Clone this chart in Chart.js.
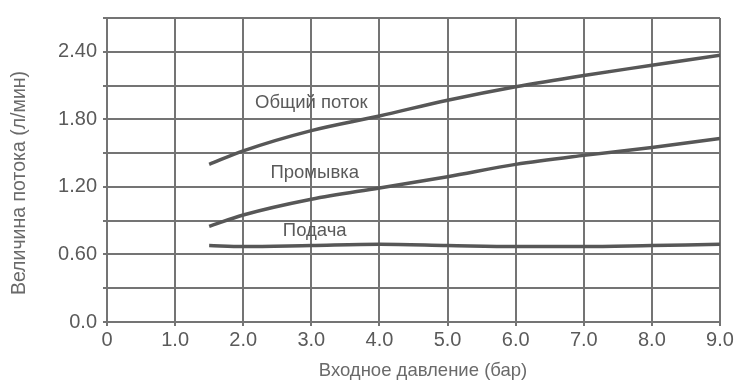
<!DOCTYPE html>
<html>
<head>
<meta charset="utf-8">
<script src="https://cdn.jsdelivr.net/npm/chart.js@4.4.1/dist/chart.umd.min.js"></script>
<style>
html,body{margin:0;padding:0;background:#fff;}
#wrap{width:737px;height:380px;}
</style>
</head>
<body>
<div id="wrap"><canvas id="c" width="737" height="380"></canvas></div>
<script>
const pressure = [1.5, 2, 3, 4, 5, 6, 7, 8, 9];
const totalFlow = [1.40, 1.52, 1.70, 1.83, 1.97, 2.09, 2.19, 2.28, 2.37];
const rinseFlow = [0.85, 0.95, 1.09, 1.19, 1.29, 1.40, 1.48, 1.55, 1.63];
const feedFlow  = [0.68, 0.67, 0.68, 0.69, 0.68, 0.67, 0.67, 0.68, 0.69];
const seriesNames = ['Общий поток', 'Промывка', 'Подача'];
const labelPos = [[3.0, 1.945], [3.05, 1.32], [3.05, 0.81]];
const xTitle = 'Входное давление (бар)';
const yTitle = 'Величина потока (л/мин)';

const pts = arr => pressure.map((p, i) => ({x: p, y: arr[i]}));
const lineColor = '#575757';
const gridColor = '#747474';
const textColor = '#5a5a5a';
const fam = '"Liberation Sans", Arial, sans-serif';

const lineLabels = {
  id: 'lineLabels',
  afterDatasetsDraw(chart) {
    const {ctx, scales: {x, y}} = chart;
    ctx.save();
    ctx.font = '18.5px ' + fam;
    ctx.fillStyle = textColor;
    ctx.textAlign = 'center';
    ctx.textBaseline = 'middle';
    seriesNames.forEach((n, i) => {
      ctx.fillText(n, x.getPixelForValue(labelPos[i][0]), y.getPixelForValue(labelPos[i][1]));
    });
    // axis titles
    ctx.fillStyle = '#6a6a6a';
    ctx.font = '18.5px ' + fam;
    ctx.fillText(xTitle, 423, 371);
    ctx.font = '19.5px ' + fam;
    ctx.translate(20, 183);
    ctx.rotate(-Math.PI / 2);
    ctx.fillText(yTitle, 0, 0);
    ctx.restore();
  }
};

new Chart(document.getElementById('c'), {
  type: 'line',
  data: {
    datasets: [
      {label: seriesNames[0], data: pts(totalFlow)},
      {label: seriesNames[1], data: pts(rinseFlow)},
      {label: seriesNames[2], data: pts(feedFlow)}
    ].map(d => Object.assign(d, {
      borderColor: lineColor, borderWidth: 3.5, pointRadius: 0,
      cubicInterpolationMode: 'monotone', fill: false
    }))
  },
  options: {
    responsive: false,
    animation: false,
    layout: {padding: {top: 14, right: 17, left: 0, bottom: 0}},
    plugins: {legend: {display: false}, tooltip: {enabled: false}},
    scales: {
      x: {
        type: 'linear', min: 0, max: 9,
        afterFit(s) { s.height = 58; },
        ticks: {
          stepSize: 1, color: textColor, padding: 2,
          font: {family: fam, size: 20},
          callback: v => v === 0 ? '0' : v.toFixed(1),
          maxRotation: 0
        },
        grid: {color: gridColor, lineWidth: 2, tickLength: 4},
        border: {color: gridColor, width: 2}
      },
      y: {
        min: 0, max: 2.7,
        afterFit(s) { s.width = 107; },
        ticks: {
          stepSize: 0.3, color: textColor, padding: 6,
          font: {family: fam, size: 20},
          callback: (v, i) => i % 2 === 0 ? (v === 0 ? '0.0' : v.toFixed(2)) : ''
        },
        grid: {color: gridColor, lineWidth: 2, tickLength: 4},
        border: {color: gridColor, width: 2}
      }
    }
  },
  plugins: [lineLabels]
});
</script>
</body>
</html>
